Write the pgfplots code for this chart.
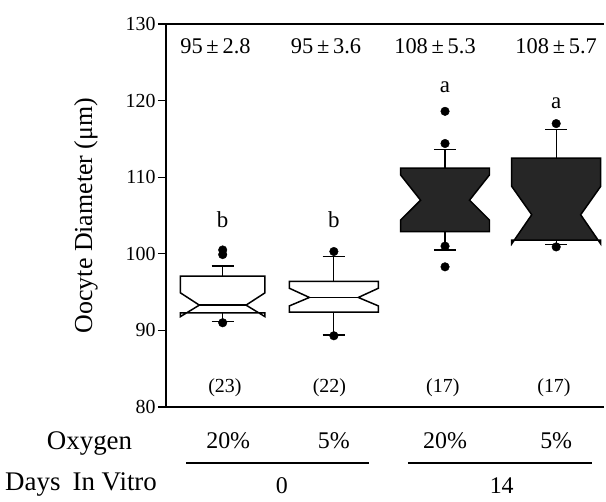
\documentclass[border=0pt]{standalone}
\usepackage{fontspec}
\setmainfont{Liberation Serif}
\usepackage{pgfplots}
\pgfplotsset{compat=1.18}
\newcommand\fs[1]{\fontsize{#1}{#1}\selectfont}
\begin{document}
\begin{tikzpicture}
\useasboundingbox (-166bp,-95bp) rectangle (440bp,407bp);
\begin{axis}[
  at={(0,0)}, anchor=south west, scale only axis,
  width=438bp, height=383bp,
  xmin=0.49, xmax=4.43, ymin=80, ymax=130,
  axis lines*=left,
  axis line style={line width=1.3pt},
  xtick=\empty,
  ytick={80,90,...,130},
  tick align=outside, major tick length=8bp,
  tick style={line width=1.2pt, black},
  /pgf/number format/assume math mode=true,
  yticklabel style={font=\fs{20}, xshift=1bp},
  ylabel={Oocyte Diameter (μm)},
  ylabel style={font=\fs{26}, at={(axis description cs:-0.183,0.5)}, anchor=center},
  clip=false,
]
% top frame line
\draw[line width=1.5pt] (rel axis cs:0,1) -- (rel axis cs:1,1);

% notched boxes (Q1, notch low, median, notch high, Q3)
\addplot[draw=black, line width=1.5pt, fill=white, line join=miter] coordinates {
 (0.62,92.3)(1.38,92.3)(1.38,91.8)(1.21,93.3)(1.38,94.9)(1.38,97.1)(0.62,97.1)(0.62,94.9)(0.79,93.3)(0.62,91.8)} -- cycle;
\addplot[draw=black, line width=1.5pt] coordinates {(0.79,93.3)(1.21,93.3)};

\addplot[draw=black, line width=1.5pt, fill=white, line join=miter] coordinates {
 (1.6,92.4)(2.4,92.4)(2.4,93.2)(2.22,94.3)(2.4,95.5)(2.4,96.4)(1.6,96.4)(1.6,95.5)(1.78,94.3)(1.6,93.2)} -- cycle;
\addplot[draw=black, line width=1.5pt] coordinates {(1.78,94.3)(2.22,94.3)};

\addplot[draw=black, line width=1.5pt, fill=black!85, line join=miter] coordinates {
 (2.6,102.9)(3.4,102.9)(3.4,104.4)(3.22,107.0)(3.4,110.3)(3.4,111.2)(2.6,111.2)(2.6,110.3)(2.78,107.0)(2.6,104.4)} -- cycle;

\addplot[draw=black, line width=1.5pt, fill=black!85, line join=miter] coordinates {
 (3.6,101.8)(4.4,101.8)(4.4,101.3)(4.22,105.1)(4.4,108.8)(4.4,112.5)(3.6,112.5)(3.6,108.8)(3.78,105.1)(3.6,101.3)} -- cycle;

% whiskers
\addplot[black, line width=1.2pt] coordinates {(1,97.1)(1,98.4)};
\addplot[black, line width=1.2pt] coordinates {(0.9,98.4)(1.1,98.4)};
\addplot[black, line width=1.2pt] coordinates {(1,92.3)(1,91.2)};
\addplot[black, line width=1.2pt] coordinates {(0.9,91.2)(1.1,91.2)};

\addplot[black, line width=1.2pt] coordinates {(2,96.4)(2,99.7)};
\addplot[black, line width=1.2pt] coordinates {(1.9,99.7)(2.1,99.7)};
\addplot[black, line width=1.2pt] coordinates {(2,92.4)(2,89.4)};
\addplot[black, line width=1.2pt] coordinates {(1.9,89.4)(2.1,89.4)};

\addplot[black, line width=1.2pt] coordinates {(3,111.2)(3,113.6)};
\addplot[black, line width=1.2pt] coordinates {(2.9,113.6)(3.1,113.6)};
\addplot[black, line width=1.2pt] coordinates {(3,102.9)(3,100.5)};
\addplot[black, line width=1.2pt] coordinates {(2.9,100.5)(3.1,100.5)};

\addplot[black, line width=1.2pt] coordinates {(4,112.5)(4,116.2)};
\addplot[black, line width=1.2pt] coordinates {(3.9,116.2)(4.1,116.2)};
\addplot[black, line width=1.2pt] coordinates {(4,101.8)(4,101.2)};
\addplot[black, line width=1.2pt] coordinates {(3.9,101.2)(4.1,101.2)};

% outlier dots
\addplot[only marks, mark=*, mark size=4.3bp, black] coordinates {
 (1,99.9)(1,100.5)(1,91.0)
 (2,100.3)(2,89.3)
 (3,118.6)(3,114.4)(3,101.0)(3,98.3)
 (4,117.0)(4,100.9)};

% annotations
\node[font=\fs{22.5}, anchor=base] at (axis cs:0.935,126.2) {95\,±\,2.8};
\node[font=\fs{22.5}, anchor=base] at (axis cs:1.93,126.2) {95\,±\,3.6};
\node[font=\fs{22.5}, anchor=base] at (axis cs:2.91,126.2) {108\,±\,5.3};
\node[font=\fs{22.5}, anchor=base] at (axis cs:4.0,126.2) {108\,±\,5.7};

\node[font=\fs{23}, anchor=base] at (axis cs:1,103.4) {b};
\node[font=\fs{23}, anchor=base] at (axis cs:2,103.4) {b};
\node[font=\fs{23}, anchor=base] at (axis cs:3,121.1) {a};
\node[font=\fs{23}, anchor=base] at (axis cs:4,119.0) {a};

\node[font=\fs{20}] at (axis cs:1.02,82.5) {(23)};
\node[font=\fs{20}] at (axis cs:1.96,82.5) {(22)};
\node[font=\fs{20}] at (axis cs:2.98,82.5) {(17)};
\node[font=\fs{20}] at (axis cs:3.98,82.5) {(17)};

% lower category labels
\node[font=\fs{27}, anchor=base] at (axis cs:-0.198,74.4) {Oxygen};
\node[font=\fs{24}, anchor=base] at (axis cs:1.05,74.6) {20\%};
\node[font=\fs{24}, anchor=base] at (axis cs:2.0,74.6) {5\%};
\node[font=\fs{24}, anchor=base] at (axis cs:3.0,74.6) {20\%};
\node[font=\fs{24}, anchor=base] at (axis cs:4.0,74.6) {5\%};
\draw[line width=1.2pt] (axis cs:0.67,72.7) -- (axis cs:2.32,72.7);
\draw[line width=1.2pt] (axis cs:2.666,72.7) -- (axis cs:4.32,72.7);
\node[font=\fs{27}, anchor=base] at (axis cs:-0.274,69.1) {Days\hspace{0.45em}In Vitro};
\node[font=\fs{24}, anchor=base] at (axis cs:1.533,68.7) {0};
\node[font=\fs{24}, anchor=base] at (axis cs:3.51,68.7) {14};
\end{axis}
\end{tikzpicture}
\end{document}
